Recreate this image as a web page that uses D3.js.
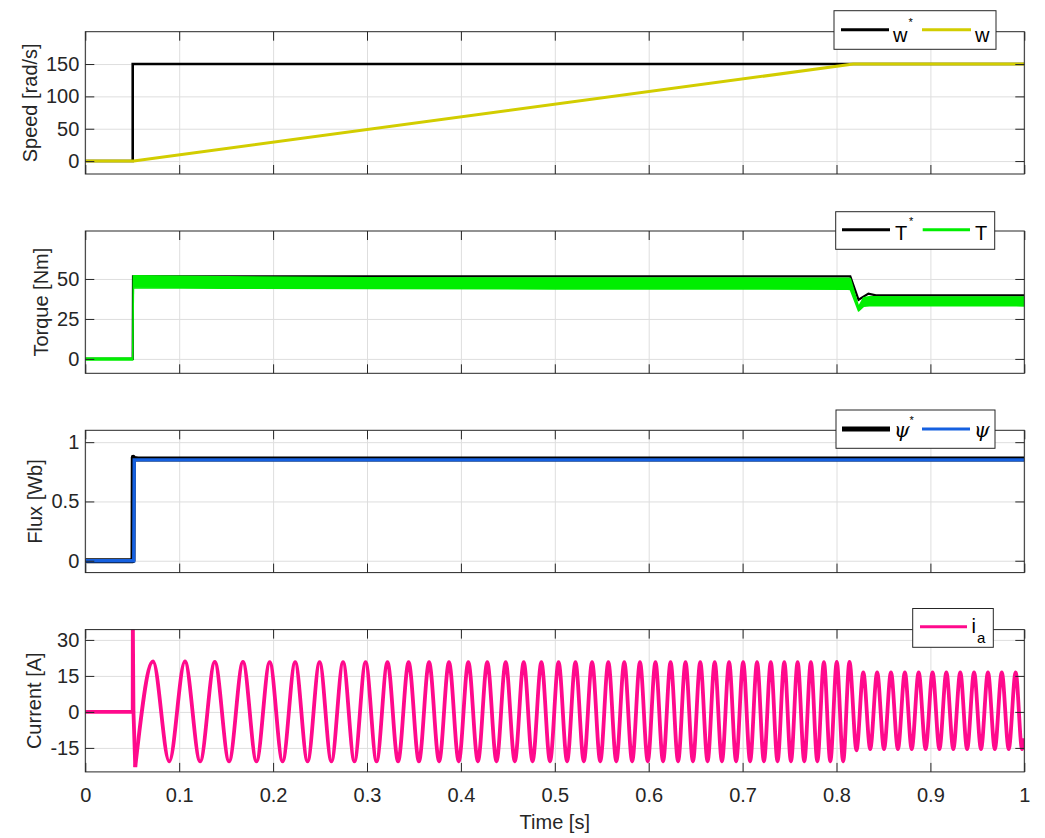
<!DOCTYPE html>
<html><head><meta charset="utf-8">
<script src="https://cdn.jsdelivr.net/npm/d3@7"></script>
<style>
body{margin:0;background:#fff;}
svg{display:block;font-family:"Liberation Sans",Arial,Helvetica,sans-serif;}
</style>
</head><body><svg id="c" width="1045" height="838"></svg>
<script>
// ---------------- DATA ----------------
const timeTicks = [0,0.1,0.2,0.3,0.4,0.5,0.6,0.7,0.8,0.9,1];
const timeTickLabels = ["0","0.1","0.2","0.3","0.4","0.5","0.6","0.7","0.8","0.9","1"];

// Speed [rad/s]
const speedTicks = [0,50,100,150];
const speedTickLabels = ["0","50","100","150"];
const speedRefT = [0, 0.0505, 0.0505, 1.0];
const speedRefV = [0, 0, 150, 150];
const speedT = [0, 0.0515, 0.818, 1.0];
const speedV = [0, 0, 150, 150];

// Torque [Nm]
const torqueTicks = [0,25,50];
const torqueTickLabels = ["0","25","50"];
const torqueRefT = [0, 0.0505, 0.0508, 0.8147, 0.8235, 0.834, 0.842, 1.0];
const torqueRefV = [0, 0, 51.6, 51.6, 37.0, 40.8, 39.8, 39.8];
const torqueT  = [0,   0.0505, 0.0512, 0.15, 0.3,  0.5,  0.7,  0.812, 0.8147, 0.8235, 0.829, 0.835, 0.9,  1.0];
const torqueHi = [0.6, 0.6,    52,     51.3, 50.8, 50.6, 50.5, 50.4,  50.2,   32.5,   38.3,   38.8,   38.7, 38.7];
const torqueLo = [-0.6,-0.6,   44.5,   44.2, 44,   43.8, 43.7, 43.6,  43.4,   30,     33,     33.3,  33.3, 33.2];

// Flux [Wb]
const fluxTicks = [0,0.5,1];
const fluxTickLabels = ["0","0.5","1"];
const fluxRefT = [0, 0.0508, 0.0511, 0.0522, 0.056, 1.0];
const fluxRefV = [0, 0, 0.872, 0.862, 0.858, 0.858];
const fluxT = [0, 0.0516, 0.0521, 1.0];
const fluxV = [0, 0, 0.851, 0.851];

// Current [A]
const currentTicks = [-15,0,15,30];
const currentTickLabels = ["-15","0","15","30"];
const iaStartT = [0, 0.0505, 0.0506, 0.0513, 0.0532];
const iaStartV = [0, 0, 40, 0, -23];
const iaExtT = [0.0532,
 0.0721,0.0894,0.1061,0.1223,0.1379,0.1531,0.1679,0.1823,0.1964,0.2101,
 0.2235,0.2367,0.2495,0.2621,0.2745,0.2866,0.2985,0.3102,0.3218,0.3331,
 0.3443,0.3553,0.3661,0.3768,0.3873,0.3977,0.4079,0.4181,0.4281,0.4379,
 0.4477,0.4574,0.4669,0.4763,0.4857,0.4949,0.5040,0.5131,0.5220,0.5309,
 0.5397,0.5484,0.5570,0.5655,0.5740,0.5824,0.5907,0.5990,0.6072,0.6153,
 0.6233,0.6313,0.6392,0.6471,0.6549,0.6627,0.6703,0.6780,0.6856,0.6931,
 0.7006,0.7080,0.7154,0.7227,0.7300,0.7372,0.7444,0.7515,0.7586,0.7657,
 0.7727,0.7796,0.7866,0.7934,0.8003,0.8071,0.8138,0.8213,
 0.8285,0.8359,0.8433,0.8506,0.8580,0.8654,0.8728,0.8801,0.8875,0.8949,
 0.9023,0.9096,0.9170,0.9244,0.9318,0.9391,0.9465,0.9539,0.9613,0.9686,
 0.9760,0.9834,0.9908,0.9976,1.0];
const iaExtV = [-23,
 21,-20.6,21,-20.6,20.8,-20.6,20.8,-20.6,20.7,-20.6,
 20.7,-20.6,20.7,-20.6,20.7,-20.6,20.7,-20.6,20.7,-20.6,
 20.7,-20.6,20.7,-20.6,20.7,-20.6,20.7,-20.6,20.7,-20.6,
 20.7,-20.6,20.7,-20.6,20.7,-20.6,20.7,-20.6,20.7,-20.6,
 20.7,-20.6,20.7,-20.6,20.7,-20.6,20.7,-20.6,20.7,-20.6,
 20.7,-20.6,20.7,-20.6,20.7,-20.6,20.7,-20.6,20.7,-20.6,
 20.7,-20.6,20.7,-20.6,20.7,-20.6,20.7,-20.6,20.7,-20.6,
 20.7,-20.6,20.7,-20.6,20.8,-20.6,20.8,-16,
 16.5,-15.5,16.5,-15.5,16.5,-15.5,16.5,-15.5,16.5,-15.5,
 16.5,-15.5,16.5,-15.5,16.5,-15.5,16.5,-15.5,16.5,-15.5,
 16.5,-15.5,16.5,-15.5,-11];

// ---------------- LAYOUT ----------------
const L = 85.3, R = 1024.3, PH = 142.3;
const FONT = 20;
const AXC = "#262626", GRID = "#dedede";
const svg = d3.select("#c");
const x = d3.scaleLinear().domain([0,1]).range([L,R]);

const panels = [
  {top:31.7,  dom:[-20,200],   ticks:speedTicks,   labels:speedTickLabels,   ylabel:"Speed [rad/s]"},
  {top:231.0, dom:[-9,80],     ticks:torqueTicks,  labels:torqueTickLabels,  ylabel:"Torque [Nm]"},
  {top:430.3, dom:[-0.1,1.1],  ticks:fluxTicks,    labels:fluxTickLabels,    ylabel:"Flux [Wb]"},
  {top:629.6, dom:[-25,34.3],  ticks:currentTicks, labels:currentTickLabels, ylabel:"Current [A]"}
];

function buildPanel(i, cfg){
  const y = d3.scaleLinear().domain(cfg.dom).range([cfg.top+PH, cfg.top]);
  const g = svg.append("g");
  const gx = g.append("g").attr("transform",`translate(0,${cfg.top+PH})`)
    .call(d3.axisBottom(x).tickValues(timeTicks).tickSize(-PH).tickFormat(""));
  const gy = g.append("g").attr("transform",`translate(${L},0)`)
    .call(d3.axisLeft(y).tickValues(cfg.ticks).tickSize(-(R-L)).tickFormat(""));
  [gx,gy].forEach(a=>{a.select(".domain").remove(); a.selectAll("line").attr("stroke",GRID).attr("stroke-width",1);});
  svg.append("defs").append("clipPath").attr("id","clip"+i)
    .append("rect").attr("x",L).attr("y",cfg.top).attr("width",R-L).attr("height",PH);
  const data = g.append("g").attr("clip-path",`url(#clip${i})`);
  cfg.y = y; cfg.g = g; cfg.data = data;
  return cfg;
}

function finishPanel(i, cfg, last){
  const g = cfg.g, y = cfg.y;
  const left = g.append("g").attr("transform",`translate(${L},0)`)
    .call(d3.axisLeft(y).tickValues(cfg.ticks).tickFormat((d,k)=>cfg.labels[k]).tickSize(-9).tickSizeOuter(0).tickPadding(6));
  const right = g.append("g").attr("transform",`translate(${R},0)`)
    .call(d3.axisRight(y).tickValues(cfg.ticks).tickFormat("").tickSize(-9).tickSizeOuter(0));
  const top = g.append("g").attr("transform",`translate(0,${cfg.top})`)
    .call(d3.axisTop(x).tickValues(timeTicks).tickFormat("").tickSize(-9).tickSizeOuter(0));
  const bottom = g.append("g").attr("transform",`translate(0,${cfg.top+PH})`)
    .call(d3.axisBottom(x).tickValues(timeTicks).tickFormat((d,k)=> last ? timeTickLabels[k] : "")
      .tickSize(-9).tickSizeOuter(0).tickPadding(16));
  [left,right,top,bottom].forEach(a=>{
    a.select(".domain").remove();
    a.selectAll("line").attr("stroke",AXC).attr("stroke-width",1);
    a.selectAll("text").attr("fill",AXC).style("font-size",FONT+"px").style("font-family",'"Liberation Sans",Arial,sans-serif');
  });
  g.append("rect").attr("x",L).attr("y",cfg.top).attr("width",R-L).attr("height",PH)
    .attr("fill","none").attr("stroke",AXC).attr("stroke-width",1);
  let minX = 1e9;
  left.selectAll("text").each(function(){ const b=this.getBBox(); minX=Math.min(minX, b.x + L); });
  const cy = cfg.top + PH/2;
  g.append("text").attr("transform",`translate(${minX-9},${cy}) rotate(-90)`)
    .attr("text-anchor","middle").attr("fill",AXC).style("font-size",FONT+"px").text(cfg.ylabel);
}

const P = panels.map((c,i)=>buildPanel(i,c));
const lineOf = (y, curve) => d3.line().x(d=>x(d[0])).y(d=>y(d[1])).curve(curve||d3.curveLinear);

// Speed
{
  const c=P[0];
  c.data.append("path").datum(d3.zip(speedRefT,speedRefV)).attr("d",lineOf(c.y))
    .attr("fill","none").attr("stroke","#000").attr("stroke-width",2.6);
  c.data.append("path").datum(d3.zip(speedT,speedV)).attr("d",lineOf(c.y))
    .attr("fill","none").attr("stroke","#d2cd00").attr("stroke-width",3);
}
// Torque
{
  const c=P[1];
  c.data.append("path").datum(d3.zip(torqueRefT,torqueRefV)).attr("d",lineOf(c.y))
    .attr("fill","none").attr("stroke","#000").attr("stroke-width",2.2);
  const area = d3.area().x(d=>x(d[0])).y0(d=>c.y(d[2])).y1(d=>c.y(d[1]));
  c.data.append("path").datum(d3.zip(torqueT,torqueHi,torqueLo)).attr("d",area)
    .attr("fill","#00ee00").attr("stroke","#00ee00").attr("stroke-width",1.6).attr("stroke-linejoin","round");
}
// Flux
{
  const c=P[2];
  c.data.append("path").datum(d3.zip(fluxRefT,fluxRefV)).attr("d",lineOf(c.y))
    .attr("fill","none").attr("stroke","#000").attr("stroke-width",5).attr("stroke-linejoin","round");
  c.data.append("path").datum(d3.zip(fluxT,fluxV)).attr("d",lineOf(c.y))
    .attr("fill","none").attr("stroke","#1560e0").attr("stroke-width",3.4);
}
// Current
{
  const c=P[3];
  c.data.append("path").datum(d3.zip(iaStartT,iaStartV)).attr("d",lineOf(c.y))
    .attr("fill","none").attr("stroke","#ff0a8c").attr("stroke-width",3.8).attr("stroke-linejoin","round");
  c.data.append("path").datum(d3.zip(iaExtT,iaExtV)).attr("d",lineOf(c.y, d3.curveMonotoneX))
    .attr("fill","none").attr("stroke","#ff0a8c").attr("stroke-width",3.8);
}

P.forEach((c,i)=>finishPanel(i,c,i===3));

svg.append("text").attr("x",(L+R)/2).attr("y",829).attr("text-anchor","middle")
  .attr("fill",AXC).style("font-size",FONT+"px").text("Time [s]");

// ---------------- LEGENDS ----------------
function legendBox(x0,y0,w,h){
  svg.append("rect").attr("x",x0).attr("y",y0).attr("width",w).attr("height",h)
    .attr("fill","#fff").attr("stroke",AXC).attr("stroke-width",1);
}
function legLine(x0,x1,yy,col,w){
  svg.append("line").attr("x1",x0).attr("x2",x1).attr("y1",yy).attr("y2",yy).attr("stroke",col).attr("stroke-width",w);
}
function legText(xx,yy,t,size,opts){
  const e = svg.append("text").attr("x",xx).attr("y",yy).attr("fill","#000").style("font-size",size+"px").text(t);
  if(opts&&opts.serif){ e.style("font-family",'"DejaVu Serif",serif').style("font-style","italic"); }
  return e;
}
legendBox(834,10.7,162,38.6);
legLine(841,889,29.7,"#000",3);
legText(893,41.5,"w",FONT); legText(908.5,26,"*",11);
legLine(922,971,29.7,"#d2cd00",3);
legText(975,41.5,"w",FONT);

legendBox(835.7,211.7,159,37.6);
legLine(842,890,229.7,"#000",3);
legText(895,240,"T",FONT); legText(909,225,"*",11);
legLine(922.7,970,229.7,"#00ee00",3);
legText(975,240,"T",FONT);

legendBox(836,410,159,38.3);
legLine(842,890,429,"#000",5);
legText(894,437,"\u03C8",FONT,{serif:true}); legText(909.5,424,"*",11);
legLine(922,970,429,"#1560e0",3);
legText(974,437,"\u03C8",FONT,{serif:true});

legendBox(912.7,608.5,80.6,38.8);
legLine(920,967,626.7,"#ff0a8c",3);
legText(971.5,633,"i",FONT); legText(977,642.5,"a",15);
</script>
</body></html>
